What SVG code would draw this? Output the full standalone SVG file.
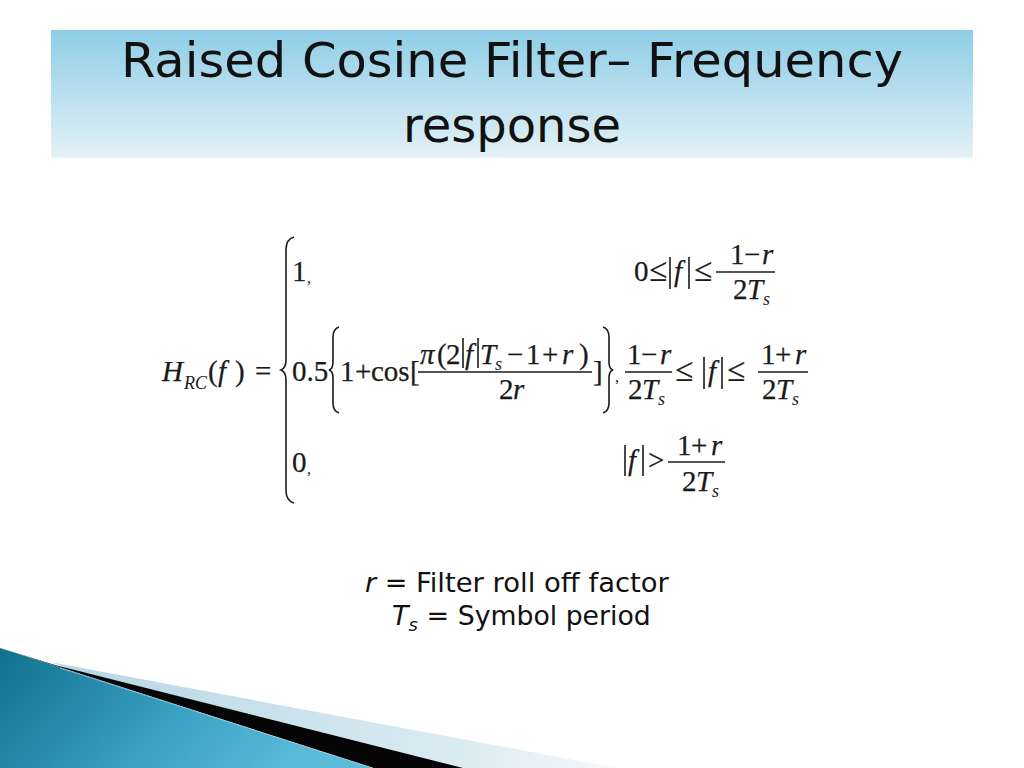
<svg xmlns="http://www.w3.org/2000/svg" width="1024" height="768" viewBox="0 0 1024 768">
<defs>
<linearGradient id="band" x1="0" y1="0" x2="0" y2="1">
<stop offset="0" stop-color="#8ecde6"/>
<stop offset="1" stop-color="#e4f1f6"/>
</linearGradient>
<linearGradient id="teal" x1="0" y1="0" x2="1" y2="0.3">
<stop offset="0" stop-color="#10718d"/>
<stop offset="0.6" stop-color="#3aa2c4"/>
<stop offset="1" stop-color="#5cbbd9"/>
</linearGradient>
<linearGradient id="light" x1="0" y1="0" x2="1" y2="0">
<stop offset="0" stop-color="#b6d6e5"/>
<stop offset="0.7" stop-color="#d9eaf2"/>
<stop offset="1" stop-color="#f4f9fb"/>
</linearGradient>
<style>
.t{font-family:"DejaVu Sans","Liberation Sans",sans-serif;fill:#111}
.m{font-family:"Liberation Serif","Times New Roman",serif;font-size:29px;fill:#1a1a1a;stroke:#1a1a1a;stroke-width:0.25}
.rel{font-family:"Liberation Serif","Times New Roman",serif;font-size:33px;fill:#1a1a1a;stroke:#1a1a1a;stroke-width:0.2}
.i{font-style:italic}
.sb{font-family:"Liberation Serif","Times New Roman",serif;font-size:18px;font-style:italic;fill:#1a1a1a}
.cm{font-family:"Liberation Serif",serif;font-size:16px;fill:#1a1a1a}
.bar{stroke:#1a1a1a;stroke-width:1.5;fill:none}
.ab{stroke:#1a1a1a;stroke-width:1.6;fill:none}
.br{stroke:#1a1a1a;stroke-width:1.6;fill:none}
</style>
</defs>
<rect width="1024" height="768" fill="#ffffff"/>

<g id="title">
<rect x="51" y="30" width="922" height="128" fill="url(#band)"/>
<text class="t" x="121" y="77" font-size="48" textLength="782" lengthAdjust="spacingAndGlyphs">Raised Cosine Filter– Frequency</text>
<text class="t" x="512" y="142" font-size="48" text-anchor="middle">response</text>
</g>

<g id="decoration">
<path d="M50,662 L617,768 L373,768 Z" fill="url(#light)"/>
<path d="M55,665 L463,768 L373,768 L0,648 Z" fill="#050505"/>
<path d="M0,648 L373,768 L0,768 Z" fill="url(#teal)"/>
<path d="M60,668 L373,768" stroke="#bfe3ef" stroke-width="0.8" opacity="0.7"/>
</g>

<g id="formula">
<!-- left side -->
<text class="m i" x="162" y="381">H</text>
<text class="sb" x="184" y="389">RC</text>
<text class="m" x="208" y="381">(</text>
<text class="m i" x="218" y="381">f</text>
<text class="m" x="235" y="381">)</text>
<text class="m" x="255" y="381">=</text>
<!-- big brace -->
<path class="br" d="M294,237 Q286,239 286,250 L286,360 Q286,368 281,370 Q286,372 286,380 L286,490 Q286,501 294,503"/>

<!-- row 1 -->
<text class="m" x="292" y="281">1</text>
<text class="cm" x="307" y="283">,</text>
<text class="m" x="634" y="281">0</text>
<text class="rel" x="649" y="281">≤</text>
<line class="ab" x1="670" y1="257" x2="670" y2="289"/>
<text class="m i" x="674" y="281">f</text>
<line class="ab" x1="689" y1="257" x2="689" y2="289"/>
<text class="rel" x="694" y="281">≤</text>
<line class="bar" x1="716" y1="272" x2="775" y2="272"/>
<text class="m" x="730" y="264">1</text>
<text class="m" x="744" y="264">−</text>
<text class="m i" x="762" y="264">r</text>
<text class="m" x="733" y="299">2</text>
<text class="m i" x="747" y="299">T</text>
<text class="sb" x="763" y="305">s</text>

<!-- row 2 -->
<text class="m" x="292" y="381">0.5</text>
<path class="br" d="M339,327 Q333,329 333,337 L333,362 Q333,369 329,370 Q333,371 333,378 L333,403 Q333,411 339,413"/>
<text class="m" x="340" y="381">1</text>
<text class="m" x="355" y="381">+</text>
<text class="m" x="371" y="381">cos</text>
<text class="m" x="410" y="381">[</text>
<line class="bar" x1="418" y1="372" x2="592" y2="372"/>
<text class="m i" x="420" y="364">π</text>
<text class="m" x="437" y="364">(</text>
<text class="m" x="446" y="364">2</text>
<line class="ab" x1="463" y1="338" x2="463" y2="368"/>
<text class="m i" x="465" y="364">f</text>
<line class="ab" x1="478" y1="338" x2="478" y2="368"/>
<text class="m i" x="480" y="364">T</text>
<text class="sb" x="495" y="370">s</text>
<text class="m" x="507" y="364">−</text>
<text class="m" x="526" y="364">1</text>
<text class="m" x="542" y="364">+</text>
<text class="m i" x="562" y="364">r</text>
<text class="m" x="579" y="364">)</text>
<text class="m" x="499" y="399">2</text>
<text class="m i" x="513" y="399">r</text>
<text class="m" x="593" y="381">]</text>
<path class="br" d="M603,327 Q609,329 609,337 L609,362 Q609,369 613,370 Q609,371 609,378 L609,403 Q609,411 603,413"/>
<text class="cm" x="615" y="382">,</text>
<line class="bar" x1="625" y1="372" x2="672" y2="372"/>
<text class="m" x="627" y="364">1</text>
<text class="m" x="641" y="364">−</text>
<text class="m i" x="660" y="364">r</text>
<text class="m" x="628" y="399">2</text>
<text class="m i" x="642" y="399">T</text>
<text class="sb" x="658" y="405">s</text>
<text class="rel" x="675" y="381">≤</text>
<line class="ab" x1="704" y1="357" x2="704" y2="389"/>
<text class="m i" x="708" y="381">f</text>
<line class="ab" x1="722" y1="357" x2="722" y2="389"/>
<text class="rel" x="727" y="381">≤</text>
<line class="bar" x1="758" y1="372" x2="808" y2="372"/>
<text class="m" x="761" y="364">1</text>
<text class="m" x="775" y="364">+</text>
<text class="m i" x="795" y="364">r</text>
<text class="m" x="762" y="399">2</text>
<text class="m i" x="776" y="399">T</text>
<text class="sb" x="792" y="405">s</text>

<!-- row 3 -->
<text class="m" x="292" y="472">0</text>
<text class="cm" x="307" y="474">,</text>
<line class="ab" x1="625" y1="445" x2="625" y2="476"/>
<text class="m i" x="628" y="470">f</text>
<line class="ab" x1="643" y1="445" x2="643" y2="476"/>
<text class="m" x="648" y="470">&gt;</text>
<line class="bar" x1="668" y1="462" x2="725" y2="462"/>
<text class="m" x="677" y="455">1</text>
<text class="m" x="691" y="455">+</text>
<text class="m i" x="711" y="455">r</text>
<text class="m" x="682" y="491">2</text>
<text class="m i" x="696" y="491">T</text>
<text class="sb" x="712" y="497">s</text>
</g>

<g id="legend">
<text class="t" x="365" y="592" font-size="27"><tspan font-style="italic">r</tspan> = <tspan textLength="253" lengthAdjust="spacingAndGlyphs">Filter roll off factor</tspan></text>
<text class="t" x="392" y="625" font-size="27"><tspan font-style="italic">T</tspan><tspan font-size="18" font-style="italic" dy="6">s</tspan><tspan dy="-6"> = </tspan><tspan textLength="193" lengthAdjust="spacingAndGlyphs">Symbol period</tspan></text>
</g>
</svg>
